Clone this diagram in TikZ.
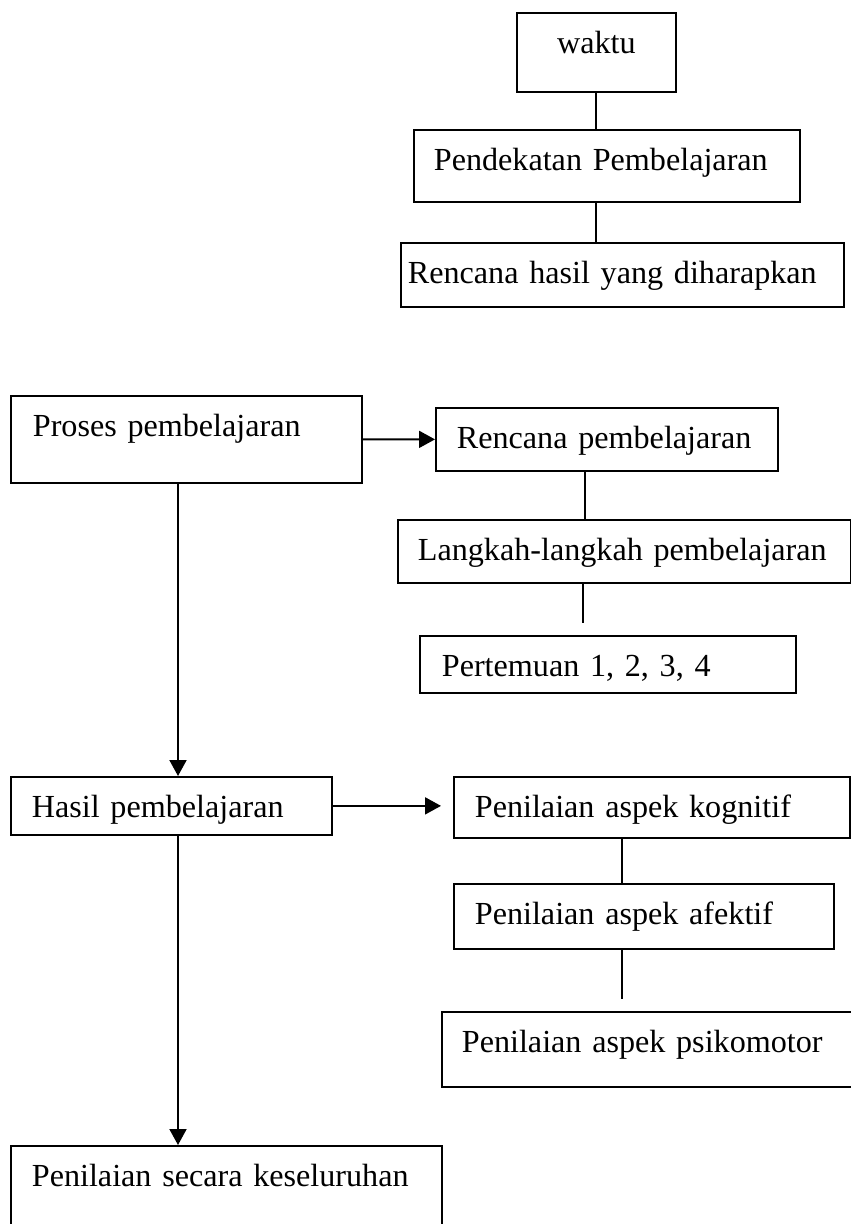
\documentclass[tikz,border=0pt]{standalone}
\usepackage{fontspec}
\setmainfont[WordSpace=0.8]{Liberation Serif}
\usepackage{tikz}
\usetikzlibrary{arrows.meta, calc}
\tikzset{
  kotak/.style={
    draw, line width=1pt, anchor=north west, inner ysep=0pt,
    inner xsep=#1, text height=0.82cm, align=left
  },
  kotak/.default=0.4cm,
  garis/.style={line width=1pt},
  panah/.style={line width=1.1pt, -{Triangle[length=0.32cm, width=0.34cm]}}
}
\begin{document}
\begin{tikzpicture}[x=0.02cm, y=-0.02cm, font=\fontsize{18.3}{22}\selectfont]
  \useasboundingbox (0,0) rectangle (851,1224);

  \node[kotak, text width=2.38cm, text depth=0.76cm, align=center] (waktu) at (516,12) {waktu};
  \node[kotak, text width=6.92cm, text depth=0.62cm] (pend) at (413,129) {Pendekatan Pembelajaran};
  \node[kotak=0.14cm, text width=8.58cm, text depth=0.46cm] (rhasil) at (400,242) {Rencana hasil yang diharapkan};

  \node[kotak=0.44cm, text width=6.14cm, text depth=0.92cm] (proses) at (10,395) {Proses pembelajaran};
  \node[kotak=0.42cm, text width=6.00cm, text depth=0.44cm] (rpemb) at (435,407) {Rencana pembelajaran};
  \node[kotak, text width=8.26cm, text depth=0.44cm] (langkah) at (397,519) {Langkah-langkah pembelajaran};
  \node[kotak=0.44cm, text width=6.64cm, text depth=0.32cm] (temu) at (419,635) {Pertemuan 1, 2, 3, 4};

  \node[kotak=0.42cm, text width=5.58cm, text depth=0.34cm] (hasilp) at (10,776) {Hasil pembelajaran};
  \node[kotak=0.42cm, text width=7.08cm, text depth=0.40cm] (kogn) at (453,776) {Penilaian aspek kognitif};
  \node[kotak=0.42cm, text width=6.76cm, text depth=0.48cm] (afek) at (453,883) {Penilaian aspek afektif};
  \node[kotak, text width=7.60cm, text depth=0.68cm] (psiko) at (441,1011) {Penilaian aspek psikomotor};
  \node[kotak=0.42cm, text width=7.78cm, text depth=1.58cm] (menyeluruh) at (10,1145) {Penilaian secara keseluruhan};

  \coordinate (kolkiri) at (178,0);
  \coordinate (ujungA) at (583,623);
  \coordinate (ujungB) at (622,999);

  \draw[garis] (waktu.south) -- (waktu.south |- pend.north);
  \draw[garis] (pend.south -| waktu.south) -- (rhasil.north -| waktu.south);
  \draw[panah] (proses.east) -- (rpemb.west);
  \draw[garis] ([xshift=-0.44cm]rpemb.south) -- ([xshift=-0.44cm]rpemb.south |- langkah.north);
  \draw[garis] (langkah.south -| ujungA) -- (ujungA);
  \draw[panah] (proses.south -| kolkiri) -- (hasilp.north -| kolkiri);
  \draw[panah, shorten >=0.24cm] (hasilp.east) -- (hasilp.east -| kogn.west);
  \draw[garis] (kogn.south -| ujungB) -- (afek.north -| ujungB);
  \draw[garis] (afek.south -| ujungB) -- (ujungB);
  \draw[panah] (hasilp.south -| kolkiri) -- (menyeluruh.north -| kolkiri);
\end{tikzpicture}
\end{document}
